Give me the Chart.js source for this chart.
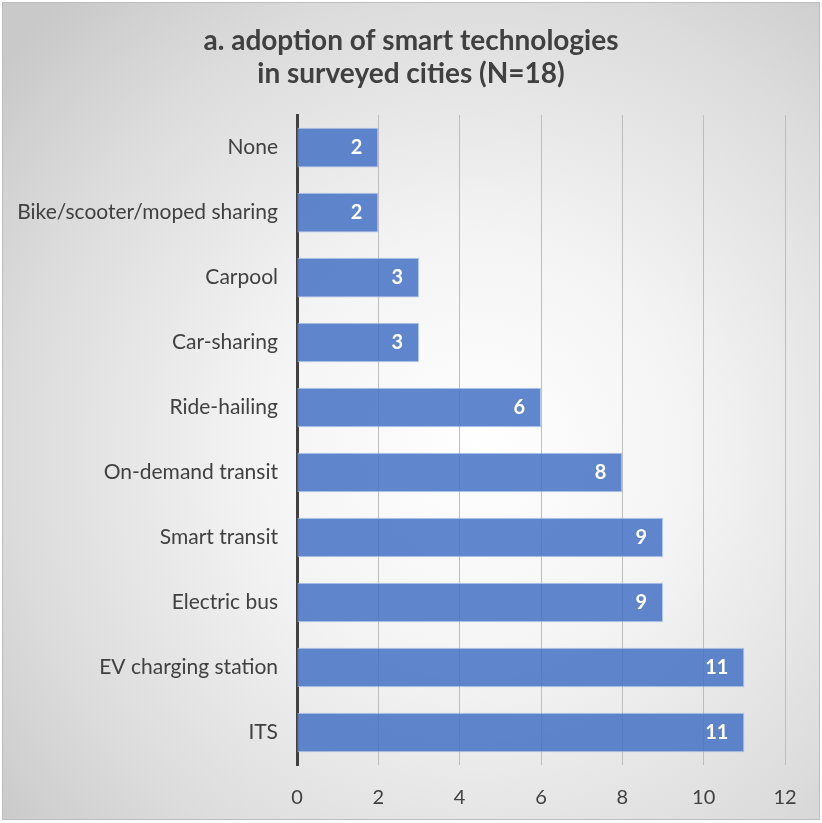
<!DOCTYPE html>
<html>
<head>
<meta charset="utf-8">
<script src="https://cdn.jsdelivr.net/npm/chart.js@4"></script>
<style>
  html, body { margin: 0; padding: 0; background: #ffffff; }
  #wrap { position: relative; width: 822px; height: 823px; }
  #bg { position: absolute; left: 2px; top: 2px; width: 816px; height: 816px;
        border: 1.5px solid #bdbdbd;
        background: radial-gradient(ellipse 75% 75% at 58% 55%, #ffffff 0%, #f4f4f4 35%, #dcdcdc 75%, #c9c9c9 100%); }
  #c { position: absolute; left: 0; top: 0; }
</style>
</head>
<body>
<div id="wrap">
  <div id="bg"></div>
  <canvas id="c" width="822" height="823"></canvas>
</div>
<script>
const titleLines = ["a. adoption of smart technologies", "in surveyed cities (N=18)"];
const categories = ["None", "Bike/scooter/moped sharing", "Carpool", "Car-sharing", "Ride-hailing",
  "On-demand transit", "Smart transit", "Electric bus", "EV charging station", "ITS"];
const values = [2, 2, 3, 3, 6, 8, 9, 9, 11, 11];
const xTicks = [0, 2, 4, 6, 8, 10, 12];

const FONT = "Lato, 'Open Sans', sans-serif";
const TEXT = "#404040";

const barLabels = {
  id: "barLabels",
  afterDatasetsDraw(chart) {
    const ctx = chart.ctx;
    const meta = chart.getDatasetMeta(0);
    ctx.save();
    ctx.fillStyle = "#ffffff";
    ctx.font = "bold 20px " + FONT;
    ctx.textAlign = "right";
    ctx.textBaseline = "middle";
    meta.data.forEach((bar, i) => {
      ctx.fillText(String(values[i]), bar.x - 16, bar.y);
    });
    ctx.restore();
  }
};

new Chart(document.getElementById("c"), {
  type: "bar",
  data: {
    labels: categories,
    datasets: [{
      data: values,
      backgroundColor: "rgba(68,114,196,0.85)",
      borderColor: "rgba(170,195,235,0.9)",
      borderWidth: 1,
      borderSkipped: false,
      categoryPercentage: 1.0,
      barPercentage: 0.61
    }]
  },
  options: {
    indexAxis: "y",
    responsive: false,
    animation: false,
    devicePixelRatio: 1,
    layout: { padding: 0 },
    plugins: {
      legend: { display: false },
      tooltip: { enabled: false },
      title: {
        display: true,
        text: titleLines,
        color: TEXT,
        font: { family: FONT, size: 28, weight: "bold", lineHeight: 1.18 },
        padding: { top: 24, bottom: 25 }
      }
    },
    scales: {
      x: {
        min: 0, max: 12,
        afterBuildTicks(scale) { scale.ticks = xTicks.map(v => ({ value: v })); },
        afterFit(scale) { scale.height = 58; },
        ticks: { color: TEXT, font: { family: FONT, size: 20, lineHeight: 1.0 }, padding: 23 },
        grid: { color: "#bdbdbd", lineWidth: 1, drawTicks: false },
        border: { display: false }
      },
      y: {
        afterFit(scale) { scale.width = 297; },
        ticks: { color: TEXT, font: { family: FONT, size: 21 }, padding: 19 },
        grid: { display: false, drawTicks: false },
        border: { display: true, color: "#404040", width: 3 }
      },
      yRight: {
        type: "linear",
        position: "right",
        display: true,
        afterFit(scale) { scale.width = 37; },
        ticks: { display: false },
        grid: { display: false, drawTicks: false },
        border: { display: false }
      }
    }
  },
  plugins: [barLabels]
});
</script>
</body>
</html>
